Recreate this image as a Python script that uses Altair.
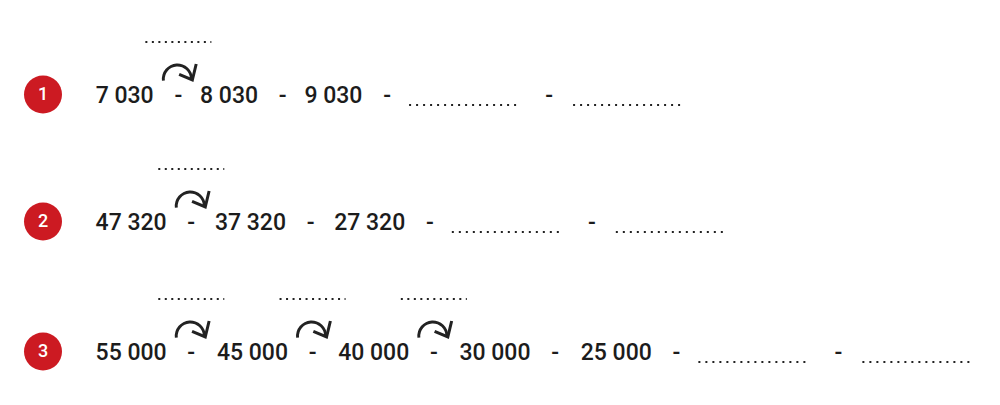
import altair as alt
import pandas as pd

# exercise rows: badge label, known terms, number of blanks to fill
row_labels = ["1", "2", "3"]
row_terms = [
    [7030, 8030, 9030],
    [47320, 37320, 27320],
    [55000, 45000, 40000, 30000, 25000],
]
row_blanks = [2, 2, 2]
# gaps (between term k and k+1) marked with an arrow and a blank above it
row_arrows = [[0], [0], [0, 1, 2]]

# layout, in page pixels
W, H = 980, 385
FONT = "Roboto"
FS = 23
ROW_Y = [96, 223, 353]
ROW_GAP = [22, 24, 26]  # space after a dash, before the next term
BADGE_X = 43
X_START = 96
GAP_BEFORE_DASH = 25
BLANK_GAP = 22
BLANK_W = 112
INK = "#1c1c1c"


def fmt(n):
    return f"{n:,}".replace(",", " ")


def text_width(s):
    # Roboto advances: digits 0.5615em, space 0.248em
    return FS * sum(0.5615 if c.isdigit() else 0.248 for c in s)


terms, lines, top_lines, arcs, heads, badges = [], [], [], [], [], []
for i, label in enumerate(row_labels):
    y = ROW_Y[i]
    badges.append({"x": BADGE_X, "y": y - 1.5, "t": label})
    x = X_START
    dash_x = []
    for n in row_terms[i]:
        s = fmt(n)
        w = text_width(s)
        terms.append({"x": x + w / 2, "y": y, "t": s})
        x += w
        d = x + GAP_BEFORE_DASH
        terms.append({"x": d, "y": y, "t": "-"})
        dash_x.append(d)
        x = d + ROW_GAP[i]
    x = dash_x[-1] + BLANK_GAP
    for b in range(row_blanks[i]):
        lines.append({"x": x, "x2": x + BLANK_W, "y": y + 9})
        x += BLANK_W
        if b < row_blanks[i] - 1:
            d = x + 28
            terms.append({"x": d, "y": y, "t": "-"})
            x = d + 24
    for k in row_arrows[i]:
        d = dash_x[k]
        top_lines.append({"x": d - 33, "x2": d + 33, "y": y - 54})
        arcs.append({"x": d - 1, "y": y - 17})
        heads.append({"x": d + 14, "y": y - 16})

XS = alt.Scale(domain=[8, 8 + W], nice=False, zero=False)
YS = alt.Scale(domain=[8, 8 + H], nice=False, zero=False, reverse=True)
X = alt.X("x:Q", scale=XS, axis=None)
Y = alt.Y("y:Q", scale=YS, axis=None)

text_layer = alt.Chart(pd.DataFrame(terms)).mark_text(
    font=FONT, fontSize=FS, fontWeight=500, color=INK,
    align="center", baseline="middle"
).encode(x=X, y=Y, text="t:N")

blank_layer = alt.Chart(pd.DataFrame(lines)).mark_rule(
    color="#222222", strokeWidth=2, strokeDash=[2, 5]
).encode(x=X, x2="x2:Q", y=Y)

top_blank_layer = alt.Chart(pd.DataFrame(top_lines)).mark_rule(
    color="#222222", strokeWidth=2, strokeDash=[2, 4.5]
).encode(x=X, x2="x2:Q", y=Y)

arc_layer = alt.Chart(pd.DataFrame(arcs)).mark_arc(
    theta=4.6, theta2=7.85, outerRadius=15.5, innerRadius=12.6, color="#222222"
).encode(x=X, y=Y)

head_layer = alt.Chart(pd.DataFrame(heads)).mark_point(
    shape="M -1 -0.43 L 0 0 L 0.29 -1.21", size=700, filled=False,
    strokeWidth=3, color="#222222", opacity=1, strokeJoin="miter"
).encode(x=X, y=Y)

badge_layer = alt.Chart(pd.DataFrame(badges)).mark_point(
    shape="circle", filled=True, size=1444, color="#cc1a22", opacity=1
).encode(x=X, y=Y)

badge_text = alt.Chart(pd.DataFrame(badges)).mark_text(
    font=FONT, fontSize=18, fontWeight=500, color="white",
    align="center", baseline="middle"
).encode(x=X, y=Y, text="t:N")

chart = alt.layer(
    blank_layer, top_blank_layer, arc_layer, head_layer,
    badge_layer, badge_text, text_layer
).properties(
    width=W, height=H, padding=0,
    autosize=alt.AutoSizeParams(type="none")
).configure_view(strokeWidth=0)

chart.save("out.html", embed_options={"renderer": "svg", "actions": False})
